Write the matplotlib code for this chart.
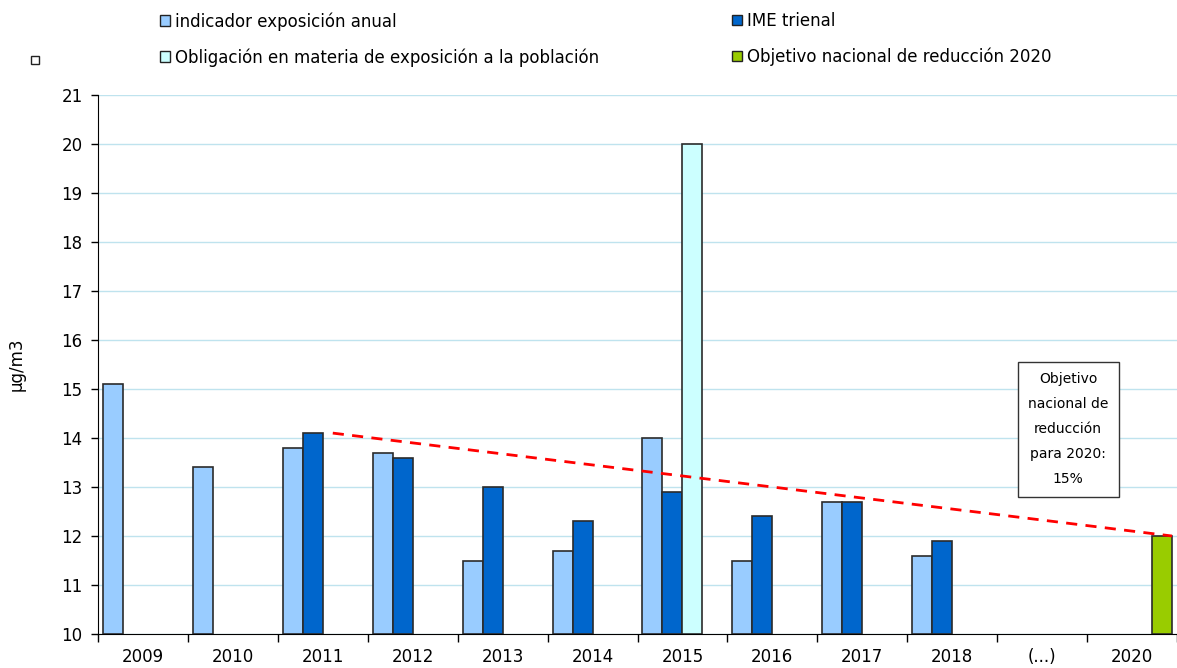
import numpy as np
import matplotlib.pyplot as plt
from matplotlib.patches import Patch, Rectangle

years = ['2009', '2010', '2011', '2012', '2013', '2014', '2015', '2016',
         '2017', '2018', '(...)', '2020']
anual = [15.1, 13.4, 13.8, 13.7, 11.5, 11.7, 14.0, 11.5, 12.7, 11.6, np.nan, np.nan]
trienal = [np.nan, np.nan, 14.1, 13.6, 13.0, 12.3, 12.9, 12.4, 12.7, 11.9, np.nan, np.nan]
obligacion = [np.nan] * 6 + [20.0] + [np.nan] * 5
objetivo = [np.nan] * 11 + [12.0]
names = ['indicador exposición anual', 'IME trienal',
         'Obligación en materia de exposición a la población',
         'Objetivo nacional de reducción 2020']
colors = ['#99CCFF', '#0066CC', '#CCFFFF', '#99CC00']

plt.rcParams['font.family'] = ['DejaVu Sans']
fig = plt.figure(figsize=(11.77, 6.68), dpi=100)
ax = fig.add_axes([98 / 1177, 1 - 634 / 668, 1 - 98 / 1177, (634 - 95) / 668])

x = np.arange(len(years))
w = 0.2222
series = [anual, trienal, obligacion, objetivo]
for i, (vals, col) in enumerate(zip(series, colors)):
    vals = np.array(vals)
    ok = ~np.isnan(vals)
    ax.bar(x[ok] + (i - 1.5) * w, vals[ok] - 10, width=w, bottom=10,
           color=col, edgecolor='#2b2b2b', linewidth=1.2, zorder=3)

# reduction path from IME 2011 to the 2020 target
ax.plot([2 + 0.5 * w, 11 + 2 * w], [trienal[2], objetivo[11]], color='#FF0000',
        linestyle=(0, (4, 3)), linewidth=2, zorder=4)

ax.set_xlim(-0.5, len(years) - 0.5)
ax.set_ylim(10, 21)
ax.set_yticks(np.arange(10, 22, 1))
ax.set_xticks(x)
ax.set_xticklabels(years)
ax.set_xticks(np.arange(-0.5, len(years), 1), minor=True)
ax.tick_params(axis='x', which='major', length=0, labelsize=12, pad=10)
ax.tick_params(axis='x', which='minor', length=6, width=1)
ax.tick_params(axis='y', length=5, width=1, labelsize=12, pad=6)
ax.grid(axis='y', color='#BFE3EE', linewidth=1, zorder=0)
for s in ['top', 'right']:
    ax.spines[s].set_visible(False)
ax.set_ylabel('µg/m3', fontsize=12, labelpad=26)

ax.text(11 - 0.71, 14.18,
        'Objetivo\nnacional de\nreducción\npara 2020:\n15%',
        ha='center', va='center', fontsize=10, linespacing=2.0,
        bbox=dict(boxstyle='square,pad=0.75', facecolor='white',
                  edgecolor='#333333', linewidth=1), zorder=5)

handles = [Patch(facecolor=c, edgecolor='#222222', linewidth=1) for c in colors]
leg1 = fig.legend([handles[0], handles[2]], [names[0], names[2]],
                  loc='upper left', bbox_to_anchor=(145 / 1177, 1 + 3 / 668),
                  frameon=False, fontsize=12, handlelength=0.6, handleheight=0.6,
                  handletextpad=0.3, labelspacing=1.05)
leg2 = fig.legend([handles[1], handles[3]], [names[1], names[3]],
                  loc='upper left', bbox_to_anchor=(717 / 1177, 1 + 3 / 668),
                  frameon=False, fontsize=12, handlelength=0.6, handleheight=0.6,
                  handletextpad=0.3, labelspacing=1.05)

fig.patches.append(Rectangle((31 / 1177, 1 - 64 / 668), 8 / 1177, 8 / 668,
                             transform=fig.transFigure, facecolor='white',
                             edgecolor='#222222', linewidth=1))

fig.savefig('out.png', dpi=100)
